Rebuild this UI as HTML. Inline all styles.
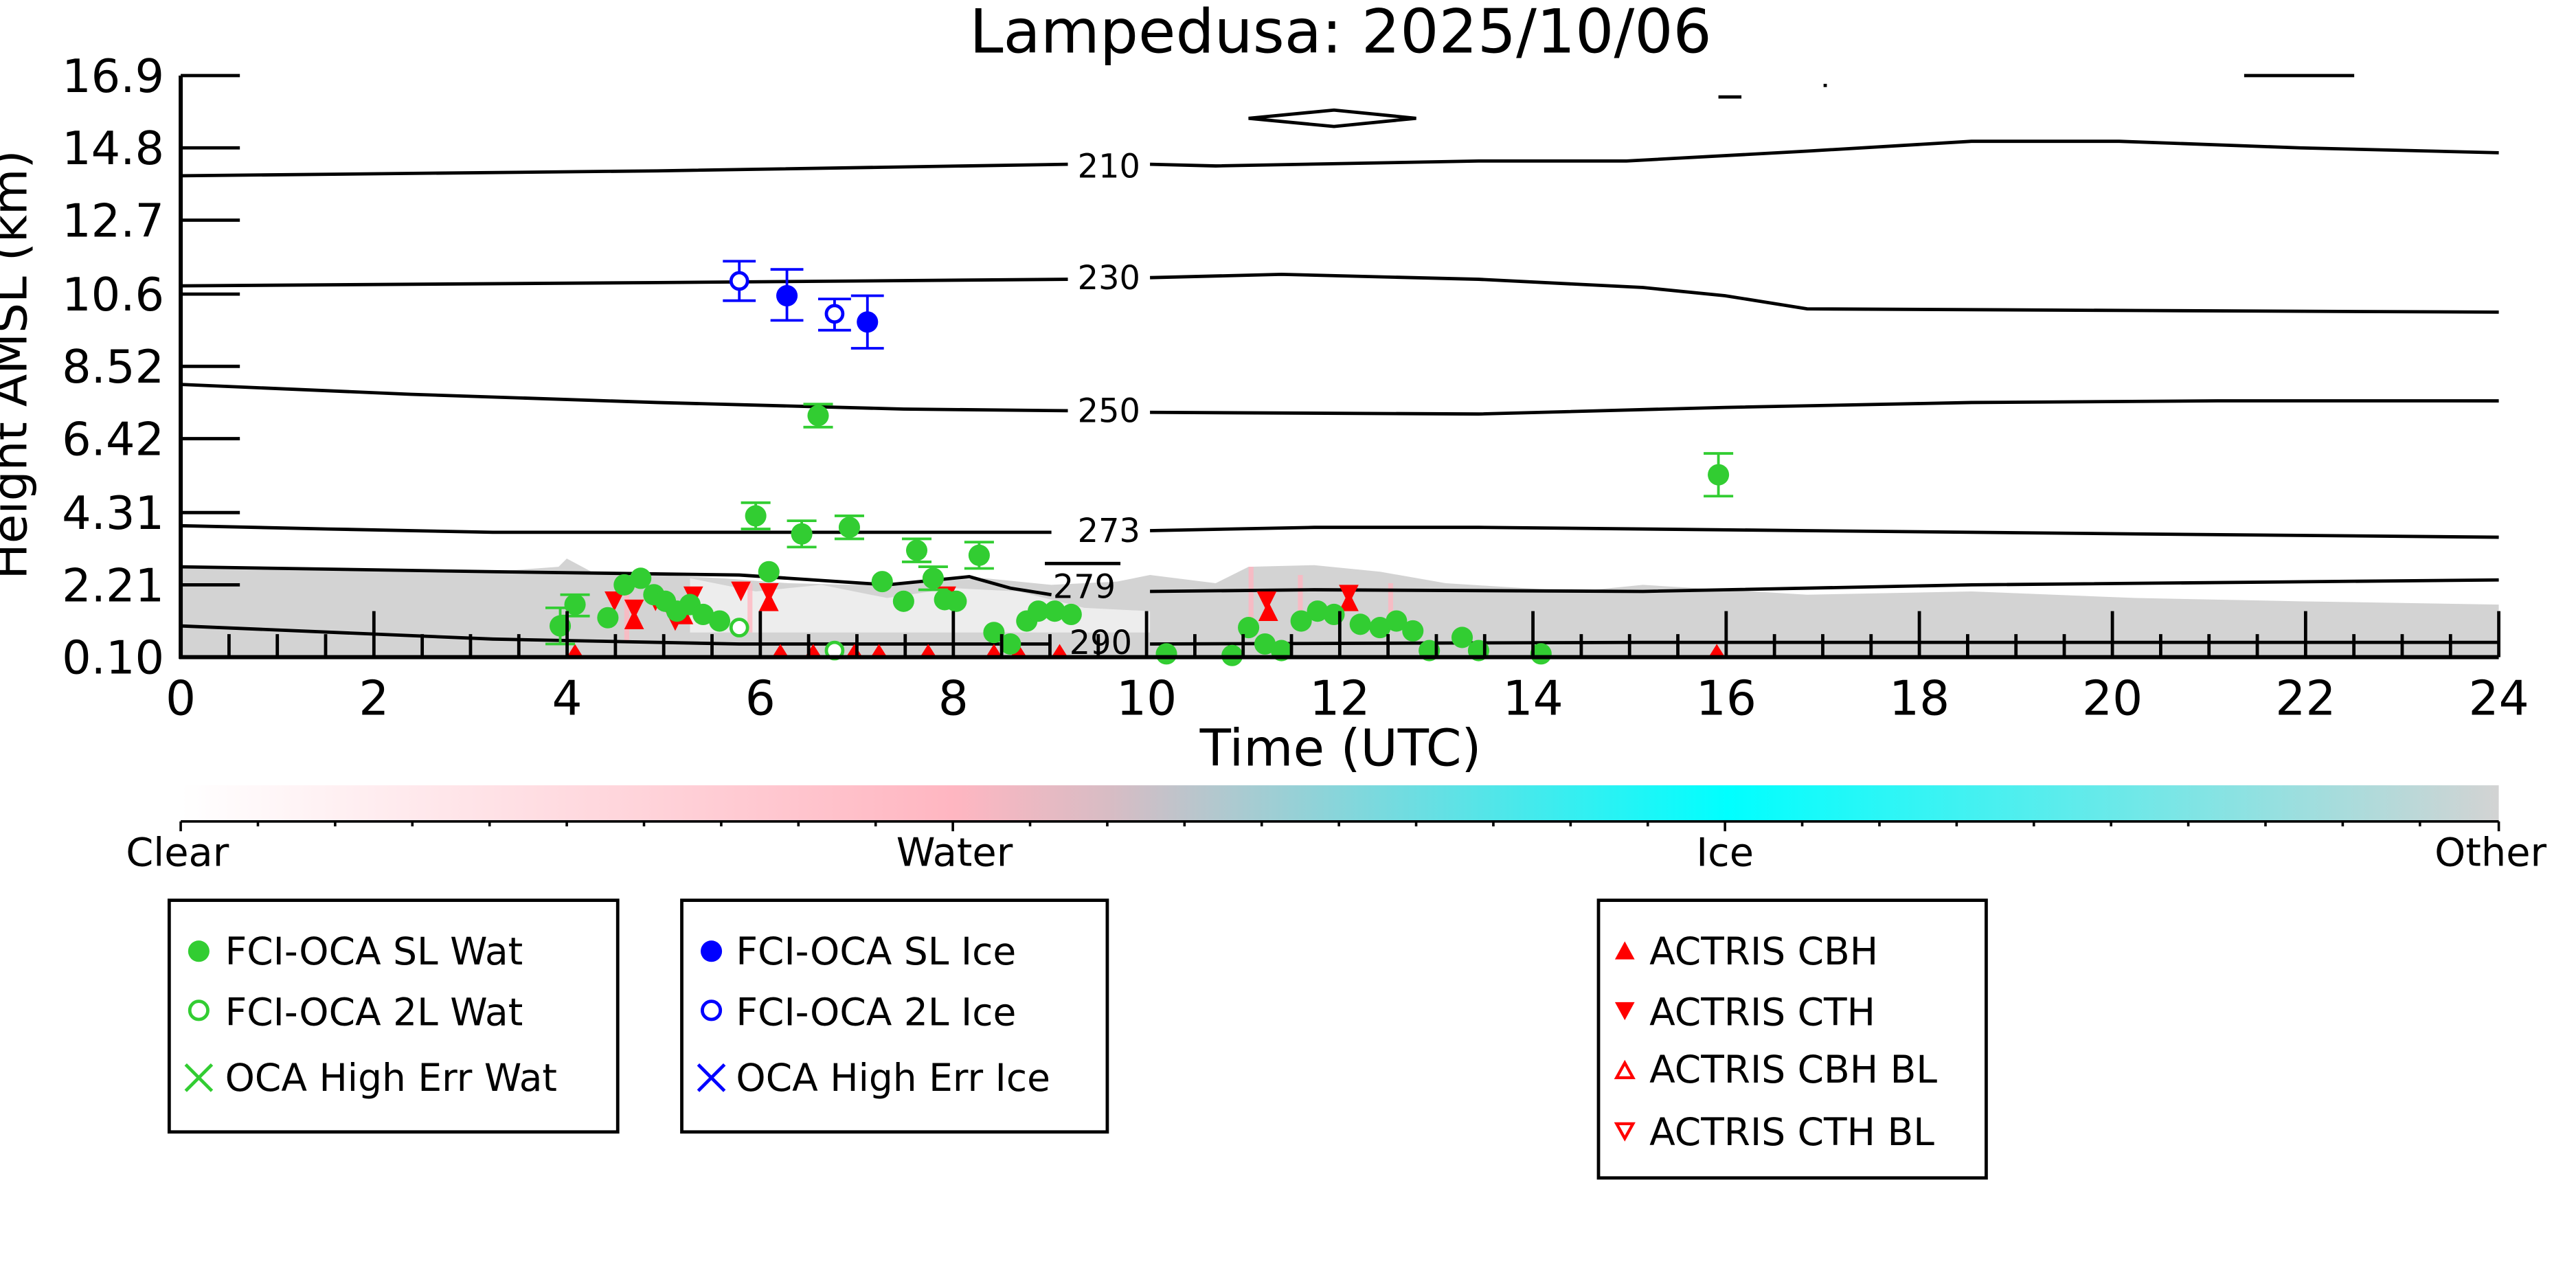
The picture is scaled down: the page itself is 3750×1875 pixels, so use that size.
<!DOCTYPE html>
<html><head><meta charset="utf-8"><style>html,body{margin:0;padding:0;background:#fff}svg{display:block}text{font-family:"DejaVu Sans","Liberation Sans",sans-serif}</style></head><body>
<svg width="3750" height="1875" viewBox="0 0 1568 784" preserveAspectRatio="none" xmlns="http://www.w3.org/2000/svg">
<defs>
<linearGradient id="cb" x1="0" x2="1" y1="0" y2="0">
<stop offset="0" stop-color="#ffffff"/><stop offset="0.333" stop-color="#ffb6c1"/><stop offset="0.4" stop-color="#d8bcc4"/><stop offset="0.667" stop-color="#00ffff"/><stop offset="1" stop-color="#d3d3d3"/>
</linearGradient>
</defs>
<text x="816" y="32" font-size="37" text-anchor="middle">Lampedusa: 2025/10/06</text>
<polygon fill="#d3d3d3" points="110,345 200,346 300,348 340,345 345,340 360,348 400,350 440,352 480,355 520,356 560,354 600,352 640,356 680,354 700,350 740,355 760,345 800,344 840,348 880,355 960,360 1000,356 1100,362 1200,360 1300,364 1400,366 1521,368 1521,400 110,400"/>
<polygon fill="#ffffff" opacity="0.6" points="420,352 460,360 500,356 540,364 580,358 620,360 660,370 700,372 700,385 420,385"/>
<g fill="#ffb6c1" opacity="0.8"><rect x="380" y="360" width="3" height="30"/><rect x="455" y="355" width="3" height="30"/><rect x="760" y="345" width="3" height="40"/><rect x="790" y="350" width="3" height="30"/><rect x="845" y="355" width="3" height="25"/></g>
<g fill="none" stroke="#000" stroke-width="2">
<path d="M110,107 L400,104 L650,100 M700,100 L740,101 L900,98 L990,98 L1100,92 L1200,86 L1290,86 L1400,90 L1521,93"/>
<path d="M110,174 L400,172 L650,170 M700,169 L780,167 L900,170 L1000,175 L1050,180 L1100,188 L1300,189 L1521,190"/>
<path d="M110,234 L250,240 L400,245 L550,249 L650,250 M700,251 L900,252 L1050,248 L1200,245 L1350,244 L1521,244"/>
<path d="M110,320 L200,322 L300,324 L400,324 L640,324 M700,323 L800,321 L900,321 L1100,323 L1300,325 L1521,327"/>
<path d="M110,345 L300,348 L450,350 L540,356 L590,351 L615,358 L640,362 M700,360 L800,359 L1000,360 L1200,356 L1521,353"/>
<path d="M110,381 L300,389 L450,392 L640,392 M700,392 L1000,391 L1521,391"/>
<path d="M636,343 L682,343"/>
</g>
<g font-size="20" text-anchor="middle"><text x="675" y="108">210</text><text x="675" y="176">230</text><text x="675" y="257">250</text><text x="675" y="330">273</text><text x="660" y="364">279</text><text x="670" y="398">290</text></g>
<path d="M760,72 L812,67 L862,72 L812,77 Z" fill="none" stroke="#000" stroke-width="2"/>
<path d="M1366,46 L1433,46 M1046,59 L1060,59 M1110,52 L1112,52" stroke="#000" stroke-width="2"/>
<g fill="#ff0000">
<path d="M368,360 l6,12 l6,-12Z M380,365 l6,12 l6,-12Z M393,360 l6,12 l6,-12Z M405,372 l6,12 l6,-12Z M416,357 l6,12 l6,-12Z M445,354 l6,12 l6,-12Z M462,355 l6,12 l6,-12Z M570,357 l6,12 l6,-12Z M765,360 l6,12 l6,-12Z M815,356 l6,12 l6,-12Z"/>
<path d="M380,383 l6,-12 l6,12Z M410,380 l6,-12 l6,12Z M462,372 l6,-12 l6,12Z M766,378 l6,-12 l6,12Z M815,372 l6,-12 l6,12Z"/>
<path d="M470,400 l5,-8 l5,8Z M490,400 l5,-8 l5,8Z M515,400 l5,-8 l5,8Z M530,400 l5,-8 l5,8Z M560,400 l5,-8 l5,8Z M600,400 l5,-8 l5,8Z M615,400 l5,-8 l5,8Z M640,400 l5,-8 l5,8Z M1040,400 l5,-8 l5,8Z M345,400 l5,-8 l5,8Z"/>
</g>
<g stroke="#32cd32" stroke-width="1.6" fill="none">
<path d="M460,306V322M451,306h18M451,322h18 M488,317V333M479,317h18M479,333h18 M517,314V328M508,314h18M508,328h18 M558,328V342M549,328h18M549,342h18 M596,330V346M587,330h18M587,346h18 M568,345V359M559,345h18M559,359h18 M498,246V260M489,246h18M489,260h18 M1046,276V302M1037,276h18M1037,302h18 M341,370V392M332,370h18M332,392h18 M350,362V375M341,362h18M341,375h18"/>
</g>
<g fill="#32cd32">
<circle cx="460" cy="314" r="6.5"/><circle cx="488" cy="325" r="6.5"/><circle cx="517" cy="321" r="6.5"/><circle cx="558" cy="335" r="6.5"/><circle cx="596" cy="338" r="6.5"/><circle cx="568" cy="352" r="6.5"/><circle cx="537" cy="354" r="6.5"/><circle cx="498" cy="253" r="6.5"/><circle cx="1046" cy="289" r="6.5"/><circle cx="468" cy="348" r="6.5"/>
<circle cx="341" cy="381" r="6.5"/><circle cx="350" cy="368" r="6.5"/><circle cx="370" cy="376" r="6.5"/><circle cx="380" cy="356" r="6.5"/><circle cx="390" cy="352" r="6.5"/><circle cx="398" cy="362" r="6.5"/><circle cx="405" cy="366" r="6.5"/><circle cx="412" cy="372" r="6.5"/><circle cx="420" cy="368" r="6.5"/><circle cx="428" cy="374" r="6.5"/><circle cx="438" cy="378" r="6.5"/><circle cx="550" cy="366" r="6.5"/><circle cx="575" cy="365" r="6.5"/><circle cx="582" cy="366" r="6.5"/><circle cx="605" cy="385" r="6.5"/><circle cx="615" cy="392" r="6.5"/><circle cx="625" cy="378" r="6.5"/><circle cx="632" cy="372" r="6.5"/><circle cx="642" cy="372" r="6.5"/><circle cx="652" cy="374" r="6.5"/><circle cx="760" cy="382" r="6.5"/><circle cx="770" cy="392" r="6.5"/><circle cx="780" cy="396" r="6.5"/><circle cx="792" cy="378" r="6.5"/><circle cx="802" cy="372" r="6.5"/><circle cx="812" cy="374" r="6.5"/><circle cx="828" cy="380" r="6.5"/><circle cx="840" cy="382" r="6.5"/><circle cx="850" cy="378" r="6.5"/><circle cx="860" cy="384" r="6.5"/><circle cx="870" cy="396" r="6.5"/><circle cx="890" cy="388" r="6.5"/><circle cx="900" cy="396" r="6.5"/><circle cx="938" cy="398" r="6.5"/><circle cx="710" cy="398" r="6.5"/><circle cx="750" cy="399" r="6.5"/>
</g>
<g fill="#fff" stroke="#32cd32" stroke-width="2"><circle cx="450" cy="382" r="5"/><circle cx="508" cy="396" r="5"/></g>
<g stroke="#0000ff" stroke-width="1.6" fill="none">
<path d="M450,159V183M440,159h20M440,183h20 M479,164V195M469,164h20M469,195h20 M508,182V201M498,182h20M498,201h20 M528,180V212M518,180h20M518,212h20"/>
</g>
<circle cx="450" cy="171" r="5" fill="#fff" stroke="#0000ff" stroke-width="2"/>
<circle cx="479" cy="180" r="6.5" fill="#0000ff"/>
<circle cx="508" cy="191" r="5" fill="#fff" stroke="#0000ff" stroke-width="2"/>
<circle cx="528" cy="196" r="6.5" fill="#0000ff"/>
<g stroke="#000" stroke-width="2.5">
<line x1="110" y1="46" x2="110" y2="401"/>
<line x1="109" y1="400" x2="1521" y2="400"/>
</g>
<g stroke="#000" stroke-width="2">
<path d="M110,46h36 M110,90h36 M110,134h36 M110,179h36 M110,223h36 M110,267h36 M110,312h36 M110,356h36"/>
<path d="M110,400v-28 M227.6,400v-28 M345.2,400v-28 M462.8,400v-28 M580.3,400v-28 M697.9,400v-28 M815.5,400v-28 M933.1,400v-28 M1050.7,400v-28 M1168.3,400v-28 M1285.8,400v-28 M1403.4,400v-28 M1521,400v-28"/>
<path d="M139.4,400v-14 M168.8,400v-14 M198.2,400v-14 M257,400v-14 M286.4,400v-14 M315.8,400v-14 M374.6,400v-14 M404,400v-14 M433.4,400v-14 M492.2,400v-14 M521.6,400v-14 M551,400v-14 M609.7,400v-14 M639.1,400v-14 M668.5,400v-14 M727.3,400v-14 M756.7,400v-14 M786.1,400v-14 M844.9,400v-14 M874.3,400v-14 M903.7,400v-14 M962.5,400v-14 M991.9,400v-14 M1021.3,400v-14 M1080.1,400v-14 M1109.5,400v-14 M1138.9,400v-14 M1197.7,400v-14 M1227.1,400v-14 M1256.5,400v-14 M1315.2,400v-14 M1344.6,400v-14 M1374,400v-14 M1432.8,400v-14 M1462.2,400v-14 M1491.6,400v-14"/>
</g>
<g font-size="28" text-anchor="end"><text x="100" y="56">16.9</text><text x="100" y="100">14.8</text><text x="100" y="144">12.7</text><text x="100" y="189">10.6</text><text x="100" y="233">8.52</text><text x="100" y="277">6.42</text><text x="100" y="322">4.31</text><text x="100" y="366">2.21</text><text x="100" y="410">0.10</text></g>
<text transform="translate(16,222) rotate(-90)" font-size="29" text-anchor="middle">Height AMSL (km)</text>
<g font-size="29" text-anchor="middle"><text x="110" y="435">0</text><text x="227.6" y="435">2</text><text x="345.2" y="435">4</text><text x="462.8" y="435">6</text><text x="580.3" y="435">8</text><text x="697.9" y="435">10</text><text x="815.5" y="435">12</text><text x="933.1" y="435">14</text><text x="1050.7" y="435">16</text><text x="1168.3" y="435">18</text><text x="1285.8" y="435">20</text><text x="1403.4" y="435">22</text><text x="1521" y="435">24</text></g>
<text x="816" y="466" font-size="31" text-anchor="middle">Time (UTC)</text>
<rect x="110" y="478" width="1411" height="22" fill="url(#cb)"/>
<line x1="110" y1="500" x2="1521" y2="500" stroke="#000" stroke-width="1.5"/>
<g stroke="#000" stroke-width="1.5">
<path d="M110,500v6 M157,500v3 M204,500v3 M251,500v3 M298,500v3 M345,500v3 M392,500v3 M439,500v3 M486,500v3 M533,500v3 M580,500v6 M627,500v3 M674,500v3 M721,500v3 M768,500v3 M815,500v3 M862,500v3 M909,500v3 M956,500v3 M1003,500v3 M1050,500v6 M1097,500v3 M1144,500v3 M1191,500v3 M1238,500v3 M1285,500v3 M1332,500v3 M1379,500v3 M1426,500v3 M1473,500v3 M1521,500v6"/>
</g>
<g font-size="24" text-anchor="middle"><text x="108" y="527">Clear</text><text x="581" y="527">Water</text><text x="1050" y="527">Ice</text><text x="1516" y="527">Other</text></g>
<g fill="none" stroke="#000" stroke-width="2"><rect x="103" y="548" width="273" height="141"/><rect x="415" y="548" width="259" height="141"/><rect x="973" y="548" width="236" height="169"/></g>
<g font-size="23">
<circle cx="121" cy="579" r="6.5" fill="#32cd32"/><text x="137" y="587">FCI-OCA SL Wat</text>
<circle cx="121" cy="615" r="5.5" fill="none" stroke="#32cd32" stroke-width="2"/><text x="137" y="624">FCI-OCA 2L Wat</text>
<path d="M113,648l16,16M129,648l-16,16" stroke="#32cd32" stroke-width="2"/><text x="137" y="664">OCA High Err Wat</text>
<circle cx="433" cy="579" r="6.5" fill="#0000ff"/><text x="448" y="587">FCI-OCA SL Ice</text>
<circle cx="433" cy="615" r="5.5" fill="none" stroke="#0000ff" stroke-width="2"/><text x="448" y="624">FCI-OCA 2L Ice</text>
<path d="M425,648l16,16M441,648l-16,16" stroke="#0000ff" stroke-width="2"/><text x="448" y="664">OCA High Err Ice</text>
<path d="M983,584l6,-11l6,11Z" fill="#ff0000"/><text x="1004" y="587">ACTRIS CBH</text>
<path d="M983,610l6,11l6,-11Z" fill="#ff0000"/><text x="1004" y="624">ACTRIS CTH</text>
<path d="M984,656l5,-9l5,9Z" fill="none" stroke="#ff0000" stroke-width="1.8"/><text x="1004" y="659">ACTRIS CBH BL</text>
<path d="M984,684l5,9l5,-9Z" fill="none" stroke="#ff0000" stroke-width="1.8"/><text x="1004" y="697">ACTRIS CTH BL</text>
</g>
</svg>
</body></html>
